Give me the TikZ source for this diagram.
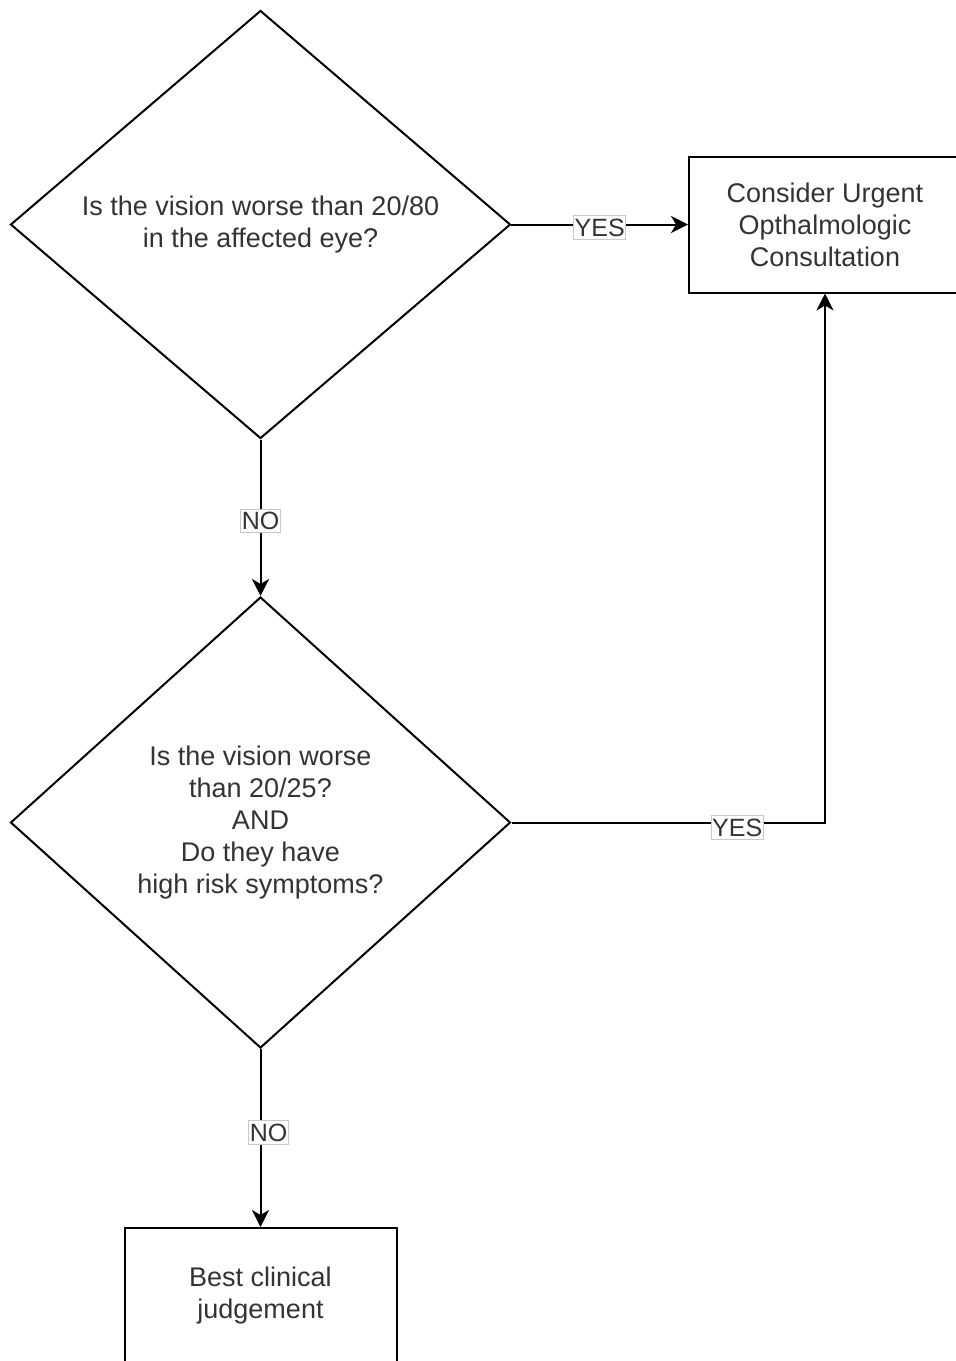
\documentclass[tikz,border=0pt]{standalone}
\usepackage{fontspec}
\setmainfont{Liberation Sans}
\usetikzlibrary{shapes.geometric,arrows.meta,positioning}
\definecolor{textgrey}{RGB}{51,51,51}
\definecolor{labelframe}{RGB}{200,200,200}

\begin{document}
\begin{tikzpicture}[x=1pt,y=-1pt,on grid,
        question/.style={draw=black,line width=2pt,diamond,aspect=1.17,inner sep=0pt,
            minimum width=500pt,align=center,text=textgrey,font=\fontsize{27}{32}\selectfont},
        outcome/.style={draw=black,line width=2pt,rectangle,minimum width=272pt,
            minimum height=136pt,align=center,text=textgrey,font=\fontsize{27}{32}\selectfont},
        answer/.style={draw=labelframe,line width=1pt,fill=white,inner xsep=1pt,
            inner ysep=3pt,text=textgrey,font=\fontsize{25}{30}\selectfont},
        flow/.style={line width=2pt,-{Stealth[length=17pt,width=17pt,inset=5pt]}}]
        \useasboundingbox (0,0) rectangle (956,1361);
        \node[question,minimum height=428pt] (vision80) at (260.5,224.5)
            {Is the vision worse than 20/80\\in the affected eye?};
        \node[outcome,right=564.5pt of vision80] (urgent)
            {Consider Urgent\\Opthalmologic\\Consultation};
        \node[question,minimum height=451pt,below=598pt of vision80] (vision25)
            {Is the vision worse\\than 20/25?\\AND\\Do they have\\high risk symptoms?};
        \node[outcome,below=473.5pt of vision25] (judgement)
            {Best clinical\\judgement};
        \path[flow]
            (vision80)
                edge node[answer,pos=0.5,yshift=-3pt] {YES} (urgent)
                edge node[answer,pos=0.52] {NO} (vision25)
            (vision25)
                edge node[answer,pos=0.47,xshift=8pt] {NO} (judgement);
        \draw[flow] (vision25) -| node[answer,pos=0.36,yshift=-5pt] {YES} (urgent);
    \end{tikzpicture}
\end{document}
